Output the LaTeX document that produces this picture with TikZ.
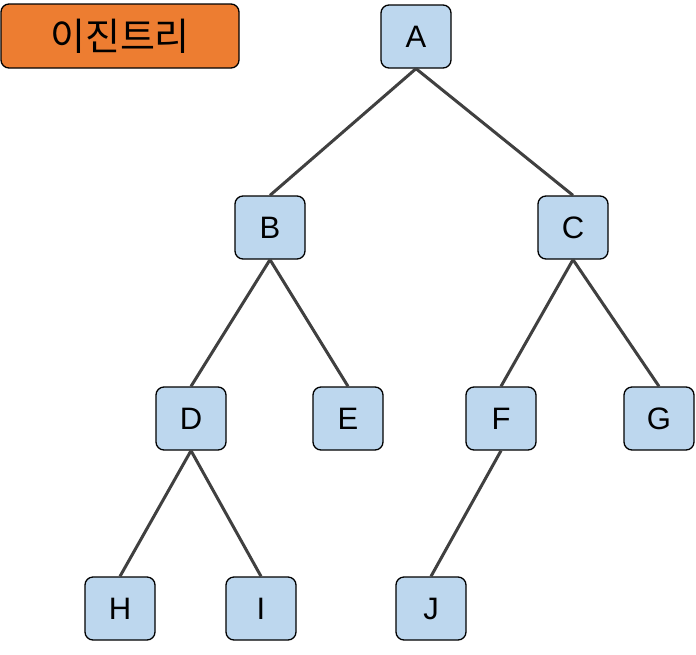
\documentclass[tikz,border=0pt]{standalone}
\usepackage{fontspec}
\setmainfont{Liberation Sans}
\newfontfamily\kor{Noto Sans CJK KR}
\definecolor{nodeblue}{HTML}{BDD7EE}
\definecolor{titleorange}{HTML}{ED7D31}
\definecolor{edgegray}{HTML}{404040}
\begin{document}
\begin{tikzpicture}[x=1pt,y=-1pt,
  treenode/.style={draw=black,line width=1.3pt,fill=nodeblue,rounded corners=8pt,
    minimum width=70pt,minimum height=63pt,inner sep=0pt,font=\fontsize{31}{34}\selectfont},
  edge/.style={draw=edgegray,line width=3pt}]
\useasboundingbox (0,0) rectangle (696,654);
\node[draw=black,line width=1.3pt,fill=titleorange,rounded corners=8pt,
  minimum width=238pt,minimum height=64pt,inner sep=0pt,
  font=\kor\fontsize{38}{40}\selectfont] (title) at (120,36) {이진트리};
\node[treenode] (A) at (416,36.5) {A};
\node[treenode] (B) at (270,227.5) {B};
\node[treenode] (C) at (573,227.5) {C};
\node[treenode] (D) at (191,418.5) {D};
\node[treenode] (E) at (348,418.5) {E};
\node[treenode] (F) at (501,418.5) {F};
\node[treenode] (G) at (659,418.5) {G};
\node[treenode] (H) at (120,608.5) {H};
\node[treenode] (I) at (261,608.5) {I};
\node[treenode] (J) at (431,608.5) {J};
\foreach \p/\c in {A/B,A/C,B/D,B/E,C/F,C/G,D/H,D/I,F/J}
  \draw[edge] (\p.south) -- (\c.north);
\end{tikzpicture}
\end{document}
